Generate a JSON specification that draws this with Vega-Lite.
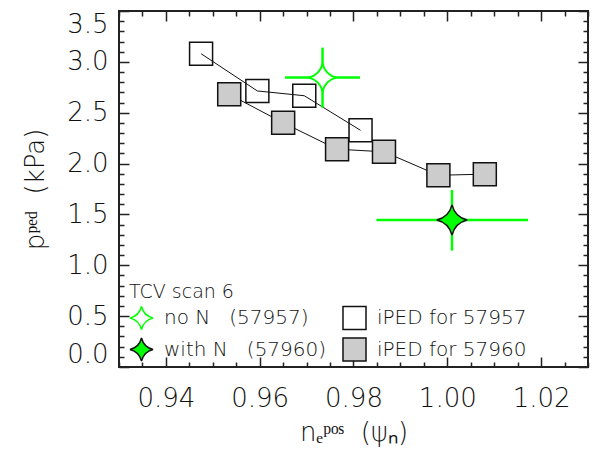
{
  "$schema": "https://vega.github.io/schema/vega-lite/v6.json",
  "width": 469,
  "height": 356,
  "autosize": {"type": "none"},
  "padding": {"left": 119, "top": 11, "right": 6, "bottom": 90},
  "background": "white",
  "config": {
    "view": {"stroke": "#222", "strokeWidth": 2},
    "font": "DejaVu Sans",
    "axis": {
      "domain": false,
      "grid": false,
      "tickColor": "#222",
      "tickWidth": 1.5,
      "labelFont": "DejaVu Sans",
      "labelFontWeight": 200,
      "labelFontSize": 26,
      "labelColor": "#111",
      "labelOverlap": false,
      "titleFont": "DejaVu Sans",
      "titleFontWeight": 200,
      "titleFontSize": 26,
      "titleColor": "#111"
    },
    "legend": {
      "orient": "none",
      "legendX": 10,
      "legendY": 272,
      "columns": 2,
      "columnPadding": 12,
      "rowPadding": 1,
      "labelFont": "DejaVu Sans",
      "labelFontWeight": 200,
      "labelFontSize": 20,
      "labelColor": "#111",
      "labelOffset": 10,
      "labelLimit": 400,
      "titleFont": "DejaVu Sans",
      "titleFontWeight": 200,
      "titleFontSize": 19,
      "titleColor": "#111",
      "titlePadding": 3,
      "symbolSize": 530,
      "symbolStrokeWidth": 1.5
    }
  },
  "datasets": {
    "iped": [
      {"series": "iPED for 57957", "x": 0.9475, "y": 3.08},
      {"series": "iPED for 57957", "x": 0.9595, "y": 2.714},
      {"series": "iPED for 57957", "x": 0.9695, "y": 2.667},
      {"series": "iPED for 57957", "x": 0.9815, "y": 2.327},
      {"series": "iPED for 57960", "x": 0.9535, "y": 2.681},
      {"series": "iPED for 57960", "x": 0.965, "y": 2.401},
      {"series": "iPED for 57960", "x": 0.9765, "y": 2.141},
      {"series": "iPED for 57960", "x": 0.9865, "y": 2.116},
      {"series": "iPED for 57960", "x": 0.9981, "y": 1.885},
      {"series": "iPED for 57960", "x": 1.008, "y": 1.896}
    ],
    "stars": [
      {"series": "no N\u00a0\u00a0\u00a0(57957)", "x": 0.9734, "y": 2.845, "xlo": 0.9654, "xhi": 0.9814, "ylo": 2.55, "yhi": 3.14},
      {"series": "with N\u00a0\u00a0\u00a0(57960)", "x": 1.001, "y": 1.445, "xlo": 0.9849, "xhi": 1.0172, "ylo": 1.144, "yhi": 1.74}
    ]
  },
  "resolve": {"axis": {"x": "independent", "y": "independent"}},
  "layer": [
    {
      "data": {"name": "iped"},
      "transform": [{"filter": "datum.series == 'iPED for 57957'"}],
      "mark": {"type": "line", "color": "#111", "strokeWidth": 1},
      "encoding": {
        "x": {
          "field": "x", "type": "quantitative",
          "scale": {"domain": [0.93, 1.03], "nice": false, "zero": false},
          "axis": {
            "orient": "bottom",
            "values": [0.93, 0.935, 0.94, 0.945, 0.95, 0.955, 0.96, 0.965, 0.97, 0.975, 0.98, 0.985, 0.99, 0.995, 1.0, 1.005, 1.01, 1.015, 1.02, 1.025, 1.03],
            "tickSize": {"condition": {"test": "abs(datum.value*50 - round(datum.value*50)) < 0.000001", "value": -10}, "value": -5},
            "labelExpr": "abs(datum.value*50 - round(datum.value*50)) < 0.000001 ? format(datum.value, '.2f') : ''",
            "labelPadding": 28,
            "labelFlush": false,
            "title": "n\u2091\u1d56\u1d52\u02e2\u00a0\u00a0(\u03c8\u2099)",
            "titlePadding": 3
          }
        },
        "y": {
          "field": "y", "type": "quantitative",
          "scale": {"domain": [0, 3.5], "nice": false, "zero": false},
          "axis": {
            "orient": "left",
            "values": [0, 0.1, 0.2, 0.3, 0.4, 0.5, 0.6, 0.7, 0.8, 0.9, 1.0, 1.1, 1.2, 1.3, 1.4, 1.5, 1.6, 1.7, 1.8, 1.9, 2.0, 2.1, 2.2, 2.3, 2.4, 2.5, 2.6, 2.7, 2.8, 2.9, 3.0, 3.1, 3.2, 3.3, 3.4, 3.5],
            "tickSize": {"condition": {"test": "abs(datum.value*2 - round(datum.value*2)) < 0.000001", "value": -10}, "value": -5},
            "labelExpr": "abs(datum.value*2 - round(datum.value*2)) < 0.000001 ? format(datum.value, '.1f') : ''",
            "labelPadding": 21,
            "labelFlush": true,
            "title": "p\u1d56\u1d49\u1d48\u00a0\u00a0(kPa)",
            "titlePadding": 18
          }
        },
        "detail": {"field": "series"}
      }
    },
    {
      "data": {"name": "iped"},
      "transform": [{"filter": "datum.series == 'iPED for 57957'"}],
      "mark": {"type": "point", "size": 529, "strokeWidth": 1.5, "opacity": 1},
      "encoding": {
        "x": {
          "field": "x", "type": "quantitative",
          "axis": {
            "orient": "top",
            "values": [0.93, 0.935, 0.94, 0.945, 0.95, 0.955, 0.96, 0.965, 0.97, 0.975, 0.98, 0.985, 0.99, 0.995, 1.0, 1.005, 1.01, 1.015, 1.02, 1.025, 1.03],
            "tickSize": {"condition": {"test": "abs(datum.value*50 - round(datum.value*50)) < 0.000001", "value": -10}, "value": -5},
            "labels": false,
            "title": null
          }
        },
        "y": {
          "field": "y", "type": "quantitative",
          "axis": {
            "orient": "right",
            "values": [0, 0.1, 0.2, 0.3, 0.4, 0.5, 0.6, 0.7, 0.8, 0.9, 1.0, 1.1, 1.2, 1.3, 1.4, 1.5, 1.6, 1.7, 1.8, 1.9, 2.0, 2.1, 2.2, 2.3, 2.4, 2.5, 2.6, 2.7, 2.8, 2.9, 3.0, 3.1, 3.2, 3.3, 3.4, 3.5],
            "tickSize": {"condition": {"test": "abs(datum.value*2 - round(datum.value*2)) < 0.000001", "value": -10}, "value": -5},
            "labels": false,
            "title": null
          }
        },
        "shape": {
          "field": "series", "type": "nominal", "title": "TCV scan 6",
          "scale": {
            "domain": ["no N\u00a0\u00a0\u00a0(57957)", "with N\u00a0\u00a0\u00a0(57960)", "iPED for 57957", "iPED for 57960"],
            "range": ["M0,-1Q0.2,-0.2,1,0Q0.2,0.2,0,1Q-0.2,0.2,-1,0Q-0.2,-0.2,0,-1Z", "M0,-1Q0.2,-0.2,1,0Q0.2,0.2,0,1Q-0.2,0.2,-1,0Q-0.2,-0.2,0,-1Z", "square", "square"]
          }
        },
        "fill": {
          "field": "series", "type": "nominal", "title": "TCV scan 6",
          "scale": {
            "domain": ["no N\u00a0\u00a0\u00a0(57957)", "with N\u00a0\u00a0\u00a0(57960)", "iPED for 57957", "iPED for 57960"],
            "range": ["white", "#00ff00", "transparent", "#cccccc"]
          }
        },
        "stroke": {
          "field": "series", "type": "nominal", "title": "TCV scan 6",
          "scale": {
            "domain": ["no N\u00a0\u00a0\u00a0(57957)", "with N\u00a0\u00a0\u00a0(57960)", "iPED for 57957", "iPED for 57960"],
            "range": ["#00ff00", "#111111", "#111111", "#111111"]
          }
        }
      }
    },
    {
      "data": {"name": "iped"},
      "transform": [{"filter": "datum.series == 'iPED for 57960'"}],
      "mark": {"type": "line", "color": "#111", "strokeWidth": 1},
      "encoding": {
        "x": {"field": "x", "type": "quantitative", "axis": null},
        "y": {"field": "y", "type": "quantitative", "axis": null},
        "detail": {"field": "series"}
      }
    },
    {
      "data": {"name": "iped"},
      "transform": [{"filter": "datum.series == 'iPED for 57960'"}],
      "mark": {"type": "point", "size": 529, "strokeWidth": 1.5, "opacity": 1},
      "encoding": {
        "x": {"field": "x", "type": "quantitative", "axis": null},
        "y": {"field": "y", "type": "quantitative", "axis": null},
        "shape": {"field": "series", "type": "nominal", "title": "TCV scan 6"},
        "fill": {"field": "series", "type": "nominal", "title": "TCV scan 6"},
        "stroke": {"field": "series", "type": "nominal", "title": "TCV scan 6"}
      }
    },
    {
      "data": {"name": "stars"},
      "mark": {"type": "rule", "color": "#00ff00", "strokeWidth": 2.5},
      "encoding": {
        "x": {"field": "xlo", "type": "quantitative", "axis": null},
        "x2": {"field": "xhi"},
        "y": {"field": "y", "type": "quantitative", "axis": null}
      }
    },
    {
      "data": {"name": "stars"},
      "mark": {"type": "rule", "color": "#00ff00", "strokeWidth": 2.5},
      "encoding": {
        "x": {"field": "x", "type": "quantitative", "axis": null},
        "y": {"field": "ylo", "type": "quantitative", "axis": null},
        "y2": {"field": "yhi"}
      }
    },
    {
      "data": {"name": "stars"},
      "transform": [{"filter": "indexof(datum.series, 'no N') == 0"}],
      "mark": {"type": "point", "size": 760, "strokeWidth": 2, "opacity": 1},
      "encoding": {
        "x": {"field": "x", "type": "quantitative", "axis": null},
        "y": {"field": "y", "type": "quantitative", "axis": null},
        "shape": {"field": "series", "type": "nominal", "title": "TCV scan 6"},
        "fill": {"field": "series", "type": "nominal", "title": "TCV scan 6"},
        "stroke": {"field": "series", "type": "nominal", "title": "TCV scan 6"}
      }
    },
    {
      "data": {"name": "stars"},
      "transform": [{"filter": "indexof(datum.series, 'with N') == 0"}],
      "mark": {"type": "point", "size": 920, "strokeWidth": 1.5, "opacity": 1},
      "encoding": {
        "x": {"field": "x", "type": "quantitative", "axis": null},
        "y": {"field": "y", "type": "quantitative", "axis": null},
        "shape": {"field": "series", "type": "nominal", "title": "TCV scan 6"},
        "fill": {"field": "series", "type": "nominal", "title": "TCV scan 6"},
        "stroke": {"field": "series", "type": "nominal", "title": "TCV scan 6"}
      }
    }
  ]
}
